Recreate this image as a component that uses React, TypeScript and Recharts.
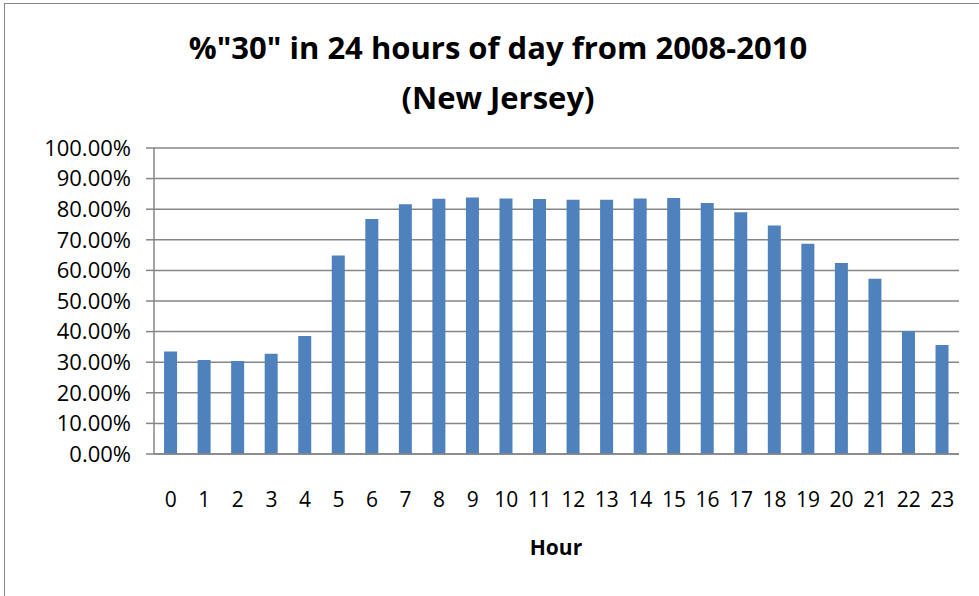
import React from 'react'
import { BarChart, Bar, XAxis, YAxis, CartesianGrid } from 'recharts'

// hours of the day and share of "30" per hour
const hours = ['0', '1', '2', '3', '4', '5', '6', '7', '8', '9', '10', '11', '12', '13', '14', '15', '16', '17', '18', '19', '20', '21', '22', '23']
const shares = [0.335, 0.307, 0.304, 0.328, 0.386, 0.649, 0.768, 0.816, 0.834, 0.838, 0.835, 0.833, 0.831, 0.831, 0.835, 0.837, 0.82, 0.79, 0.747, 0.687, 0.624, 0.573, 0.401, 0.356]
const yTicks = [0, 0.1, 0.2, 0.3, 0.4, 0.5, 0.6, 0.7, 0.8, 0.9, 1]

const titleLines = ['%"30" in 24 hours of day from 2008-2010', '(New Jersey)']
const xTitle = 'Hour'

const FONT = '"Open Sans", sans-serif'

export default function App() {
  const data = hours.map((h, i) => ({ hour: h, share: shares[i] }))

  return (
    <div style={{ position: 'absolute', left: 0, top: 0, width: 979, height: 596, overflow: 'hidden', background: '#fff', fontFamily: FONT }}>
      <div style={{ position: 'absolute', left: 4, top: 3, right: 0, bottom: 0, borderLeft: '1px solid #868686', borderTop: '1px solid #868686' }} />
      <div style={{ position: 'absolute', left: 0, width: 996, top: 22, textAlign: 'center', fontWeight: 700, fontSize: 31, lineHeight: '50px', color: '#000' }}>
        {titleLines.map(t => <div key={t}>{t}</div>)}
      </div>
      <BarChart
        width={979}
        height={596}
        data={data}
        margin={{ top: 148, right: 20, bottom: 112, left: 0 }}
        barCategoryGap="30%"
        style={{ position: 'absolute', left: 0, top: 0 }}
      >
        <CartesianGrid vertical={false} stroke="#868686" strokeWidth={1.5} />
        <XAxis
          dataKey="hour"
          stroke="#868686"
          strokeWidth={1.5}
          tickLine={false}
          tickMargin={32}
          tick={{ fontSize: 21, fill: '#000', fontFamily: FONT }}
          interval={0}
        />
        <YAxis
          domain={[0, 1]}
          ticks={yTicks}
          width={154}
          stroke="#868686"
          strokeWidth={1.5}
          tickSize={8}
          tickMargin={15}
          tickFormatter={(v: number) => `${(v * 100).toFixed(2)}%`}
          tick={{ fontSize: 22, fill: '#000', fontFamily: FONT }}
          interval={0}
        />
        <Bar dataKey="share" fill="#4F81BD" isAnimationActive={false} />
      </BarChart>
      <div style={{ position: 'absolute', left: 456, width: 200, top: 533, textAlign: 'center', fontWeight: 700, fontSize: 21, color: '#000' }}>
        {xTitle}
      </div>
    </div>
  )
}
